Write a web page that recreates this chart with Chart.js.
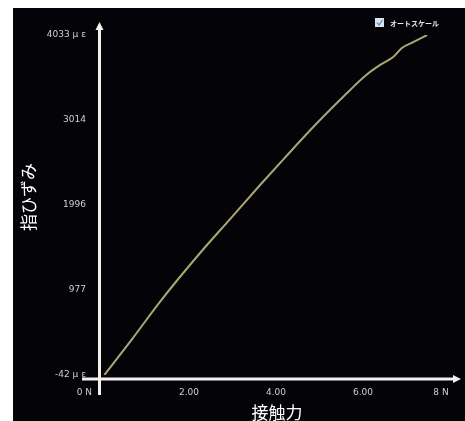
<!DOCTYPE html>
<html>
<head>
<meta charset="utf-8">
<script src="https://cdn.jsdelivr.net/npm/chart.js@4/dist/chart.umd.min.js"></script>
<style>
  html, body { margin: 0; padding: 0; background: #fff; }
  #frame {
    position: absolute; left: 13px; top: 8px;
    width: 452px; height: 413px;
    background: #040408;
  }
</style>
</head>
<body>
<div id="frame"><canvas id="strainChart"></canvas></div>
<script>
// 接触力 (N) と 指ひずみ (μ ε)
const force  = [0.1, 0.75, 1.4, 2.3, 3.0, 3.68, 4.21, 4.99, 5.75, 6.1, 6.44, 6.74, 6.94, 7.2, 7.52];
const strain = [-42, 397, 850, 1420, 1833, 2235, 2540, 2978, 3374, 3545, 3674, 3769, 3877, 3947, 4033];

const yTicks = [-42, 977, 1996, 3014, 4033];
const yTickLabels = ['-42 μ ε', '977', '1996', '3014', '4033 μ ε'];
const xTicks = [0, 2, 4, 6, 8];
const xTickLabels = ['0 N', '2.00', '4.00', '6.00', '8 N'];

const xTitle = '接触力';
const yTitle = '指ひずみ';
const legendText = 'オートスケール';

const points = force.map((f, i) => ({ x: f, y: strain[i] }));

// 軸・矢印・ラベルを描く
const axesPlugin = {
    id: 'axesPlugin',
    afterDraw(chart) {
        const ctx = chart.ctx;
        const area = chart.chartArea;
        const xs = chart.scales.x;
        const ys = chart.scales.y;
        const axisX = area.left - 0.5;
        const axisY = area.bottom + 4;

        ctx.save();
        ctx.strokeStyle = '#f4f0ea';
        ctx.fillStyle = '#f4f0ea';
        ctx.lineWidth = 3;

        // y axis
        ctx.beginPath();
        ctx.moveTo(axisX, area.bottom + 20);
        ctx.lineTo(axisX, area.top - 8);
        ctx.stroke();
        ctx.beginPath();
        ctx.moveTo(axisX, area.top - 13);
        ctx.lineTo(axisX - 4, area.top - 5);
        ctx.lineTo(axisX + 4, area.top - 5);
        ctx.closePath();
        ctx.fill();

        // x axis
        ctx.beginPath();
        ctx.moveTo(area.left - 18, axisY);
        ctx.lineTo(area.right + 8, axisY);
        ctx.stroke();
        ctx.beginPath();
        ctx.moveTo(area.right + 13, axisY);
        ctx.lineTo(area.right + 5, axisY - 4);
        ctx.lineTo(area.right + 5, axisY + 4);
        ctx.closePath();
        ctx.fill();

        // y tick labels
        ctx.fillStyle = '#cfcfcf';
        ctx.font = '9px "DejaVu Sans"';
        ctx.textAlign = 'right';
        ctx.textBaseline = 'middle';
        yTicks.forEach((v, i) => {
            ctx.fillText(yTickLabels[i], area.left - 14, ys.getPixelForValue(v));
        });

        // x tick labels
        xTicks.forEach((v, i) => {
            let px = xs.getPixelForValue(v);
            if (i === 0) {
                ctx.textAlign = 'right';
                px -= 8;
            } else if (i === xTicks.length - 1) {
                ctx.textAlign = 'center';
                px -= 7;
            } else {
                ctx.textAlign = 'center';
                px += 2;
            }
            ctx.fillText(xTickLabels[i], px, axisY + 14);
        });

        // titles
        ctx.fillStyle = '#ffffff';
        ctx.font = '17px "Noto Sans CJK JP"';
        ctx.textAlign = 'center';
        ctx.textBaseline = 'middle';
        ctx.fillText(xTitle, (area.left + area.right) / 2 + 3, axisY + 34);

        ctx.save();
        ctx.translate(16, (area.top + area.bottom) / 2 - 8);
        ctx.rotate(-Math.PI / 2);
        ctx.fillText(yTitle, 0, 0);
        ctx.restore();

        // legend checkbox
        const bx = area.right - 73, by = area.top - 17;
        ctx.fillStyle = '#d8e4f0';
        ctx.fillRect(bx, by, 9, 9);
        ctx.strokeStyle = '#5a7fb0';
        ctx.lineWidth = 1.2;
        ctx.beginPath();
        ctx.moveTo(bx + 2, by + 4.5);
        ctx.lineTo(bx + 4, by + 7);
        ctx.lineTo(bx + 7.5, by + 2);
        ctx.stroke();
        ctx.fillStyle = '#e8e8e8';
        ctx.font = 'bold 7px "Noto Sans CJK JP"';
        ctx.textAlign = 'left';
        ctx.fillText(legendText, bx + 15, by + 5);

        ctx.restore();
    }
};

new Chart(document.getElementById('strainChart'), {
    type: 'scatter',
    data: {
        datasets: [{
            label: legendText,
            data: points,
            showLine: true,
            borderColor: '#aaa872',
            borderWidth: 2,
            pointRadius: 0,
            cubicInterpolationMode: 'monotone'
        }]
    },
    options: {
        responsive: true,
        maintainAspectRatio: false,
        animation: false,
        layout: {
            padding: { left: 87, top: 27, right: 17, bottom: 46 }
        },
        plugins: {
            legend: { display: false },
            tooltip: { enabled: false }
        },
        scales: {
            x: { type: 'linear', min: 0, max: 8, display: false },
            y: { type: 'linear', min: -42, max: 4033, display: false }
        }
    },
    plugins: [axesPlugin]
});
</script>
</body>
</html>
